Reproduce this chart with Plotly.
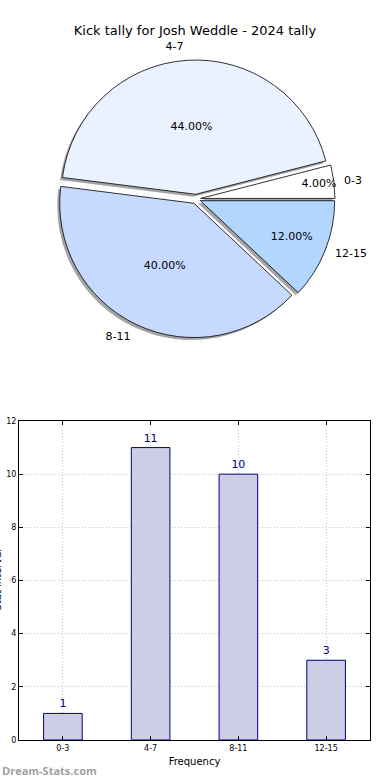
import plotly.graph_objects as go

# ---- data ----
categories = ["0-3", "4-7", "8-11", "12-15"]
counts = [1, 11, 10, 3]
pie_colors = ["#FFFFFF", "#EBF2FF", "#C6D9FF", "#B3D6FF"]
y_ticks = [0, 2, 4, 6, 8, 10, 12]

title_text = "Kick tally for Josh Weddle - 2024 tally"
x_title = "Frequency"
y_title = "Stat interval"
watermark = "Dream-Stats.com"

W, H = 390, 780
FONT = "DejaVu Sans"

def px_x(x):
    return x / W

def px_y(y):
    return 1 - y / H

pull = [0.035] * len(categories)
# first slice starts at 3 o'clock and runs counterclockwise
start_rot = 90 - 360 * counts[0] / sum(counts)

# pie domain (square, in pixels)
pcx, pcy, half = 196, 199, 139
dom_x = [px_x(pcx - half), px_x(pcx + half)]
dom_y = [px_y(pcy + half), px_y(pcy - half)]

fig = go.Figure()

# shadow
sh = 2.5
fig.add_trace(go.Pie(
    labels=categories, values=counts, sort=False, direction="counterclockwise",
    rotation=start_rot, pull=pull,
    domain=dict(x=[dom_x[0] - sh / W, dom_x[1] - sh / W], y=[dom_y[0] - sh / H, dom_y[1] - sh / H]),
    marker=dict(colors=["rgba(90,90,90,0.55)"] * 4, line=dict(width=0)),
    textinfo="none", hoverinfo="skip", showlegend=False,
))

# main pie
fig.add_trace(go.Pie(
    labels=categories, values=counts, sort=False, direction="counterclockwise",
    rotation=start_rot, pull=pull,
    domain=dict(x=dom_x, y=dom_y),
    marker=dict(colors=pie_colors, line=dict(color="black", width=0.8)),
    texttemplate="%{percent:.2%}", textposition="inside",
    insidetextorientation="horizontal",
    textfont=dict(family=FONT, size=11, color="black"),
    showlegend=False,
))

# outside labels (transparent overlay)
half2 = half + 7
fig.add_trace(go.Pie(
    labels=categories, values=counts, sort=False, direction="counterclockwise",
    rotation=start_rot, pull=pull,
    domain=dict(x=[px_x(pcx - half2), px_x(pcx + half2)], y=[px_y(pcy + half2), px_y(pcy - half2)]),
    marker=dict(colors=["rgba(0,0,0,0)"] * 4, line=dict(width=0)),
    textinfo="label", textposition="outside",
    outsidetextfont=dict(family=FONT, size=11, color="black"),
    hoverinfo="skip", showlegend=False,
))

# bar chart
fig.add_trace(go.Bar(
    x=categories, y=counts, width=0.44,
    marker=dict(color="#CDCDE6", line=dict(color="#000080", width=1)),
    text=[str(v) for v in counts], textposition="outside",
    textfont=dict(family=FONT, size=11, color="#000080"),
    cliponaxis=False, showlegend=False, hoverinfo="skip",
))

grid = dict(showgrid=True, gridcolor="#C4C4C4", griddash="1px,2px", gridwidth=1)

fig.update_layout(
    width=W, height=H,
    margin=dict(l=0, r=0, t=0, b=0, autoexpand=False),
    paper_bgcolor="white", plot_bgcolor="white",
    font=dict(family=FONT, color="black"),
    hovermode=False,
    title=dict(text=title_text, x=0.5, xanchor="center", y=px_y(30), yanchor="middle",
               font=dict(family=FONT, size=13, color="black")),
    xaxis=dict(
        domain=[px_x(19), px_x(370)], anchor="y", automargin=False,
        type="category", range=[-0.5, 3.5],
        showline=True, mirror="ticks", linecolor="black", linewidth=1,
        ticks="inside", ticklen=4, tickcolor="black",
        tickfont=dict(family=FONT, size=8, color="black"),
        title=dict(text=x_title, font=dict(family=FONT, size=10, color="black"), standoff=6),
        zeroline=False, fixedrange=True, **grid,
    ),
    yaxis=dict(
        domain=[px_y(740), px_y(421)], anchor="x", automargin=False,
        range=[0, 12], tickvals=y_ticks,
        showline=True, mirror="ticks", linecolor="black", linewidth=1,
        ticks="inside", ticklen=4, tickcolor="black",
        tickfont=dict(family=FONT, size=8, color="black"),
        zeroline=False, fixedrange=True, **grid,
    ),
    uniformtext=dict(minsize=11, mode="show"),
    annotations=[
        dict(text=y_title, xref="paper", yref="paper", x=0, y=px_y(580),
             xanchor="right", yanchor="middle", xshift=4, textangle=-90,
             showarrow=False, font=dict(family=FONT, size=10, color="black")),
        dict(text="<b>" + watermark + "</b>", xref="paper", yref="paper", x=0, y=px_y(770),
             xanchor="left", yanchor="middle", xshift=0, showarrow=False,
             font=dict(family="Open Sans", size=11, color="#A0A0A0")),
    ],
)

fig.write_html(
    "out.html",
    config={"displayModeBar": False, "staticPlot": True},
    post_script=(
        "document.body.style.margin='0px';"
        "document.body.style.overflow='hidden';"
        "document.documentElement.style.overflow='hidden';"
    ),
)
